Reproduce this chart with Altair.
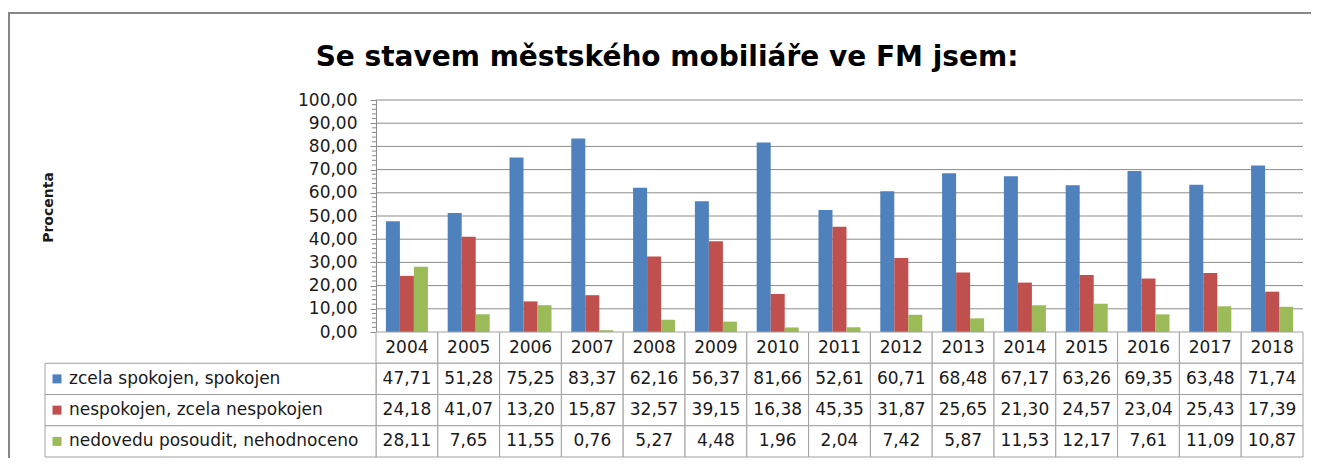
import altair as alt
import pandas as pd

# ---------------- data ----------------
years = [str(y) for y in range(2004, 2019)]
series = [
    "zcela spokojen, spokojen",
    "nespokojen, zcela nespokojen",
    "nedovedu posoudit, nehodnoceno",
]
satisfied = [47.71, 51.28, 75.25, 83.37, 62.16, 56.37, 81.66, 52.61, 60.71, 68.48, 67.17, 63.26, 69.35, 63.48, 71.74]
dissatisfied = [24.18, 41.07, 13.20, 15.87, 32.57, 39.15, 16.38, 45.35, 31.87, 25.65, 21.30, 24.57, 23.04, 25.43, 17.39]
undecided = [28.11, 7.65, 11.55, 0.76, 5.27, 4.48, 1.96, 2.04, 7.42, 5.87, 11.53, 12.17, 7.61, 11.09, 10.87]
colors = ["#4F81BD", "#C0504D", "#9BBB59"]
y_ticks = [0, 10, 20, 30, 40, 50, 60, 70, 80, 90, 100]
title_text = "Se stavem městského mobiliáře ve FM jsem:"
y_title = "Procenta"

# ---------------- layout ----------------
W, H = 1258, 358          # whole plot area (label column + year columns, bars + table)
LABEL_W = 331             # width of the table's label column
BAR_H = 232               # height of the bar region
PAD_L, PAD_T, PAD_R, PAD_B = 37, 92, 8, 0
FONT = "DejaVu Sans"
GRID = "#8c8c8c"
LINE = "#a0a0a0"
TXT = "#1a1a1a"
FRAME = "#868686"

row_keys = ["h"] + [f"r{i}" for i in range(len(series))]

rows = []
for s, vals in zip(series, [satisfied, dissatisfied, undecided]):
    for yr, v in zip(years, vals):
        rows.append({"year": yr, "series": s, "value": v})
bars_df = pd.DataFrame(rows)

cells = []
for yr in years:
    cells.append({"year": yr, "row": "h", "label": yr})
for i, vals in enumerate([satisfied, dissatisfied, undecided]):
    for yr, v in zip(years, vals):
        cells.append({"year": yr, "row": f"r{i}", "label": f"{v:.2f}".replace(".", ",")})
cells_df = pd.DataFrame(cells)

labels_df = pd.DataFrame({"row": row_keys[1:], "series": series})
grid_df = pd.DataFrame({"v": y_ticks[1:]})
minor_df = pd.DataFrame({"v": [v for v in range(0, 101, 2) if v % 10 != 0]})
one_df = pd.DataFrame({"k": [0]})
title_df = pd.DataFrame({"t": [title_text]})

bar_x = alt.Scale(type="band", domain=years, range=[LABEL_W, W], paddingInner=0.32, paddingOuter=0.16)
cell_x = alt.Scale(type="band", domain=years, range=[LABEL_W, W], paddingInner=0, paddingOuter=0)
bar_y = alt.Scale(type="linear", domain=[0, 100], range=[BAR_H, 0], nice=False, zero=True)
row_y = alt.Scale(type="band", domain=row_keys, range=[BAR_H, H - 1], paddingInner=0, paddingOuter=0)
color_scale = alt.Scale(domain=series, range=colors)

# outer chart frame (left and top edges only; the others run off the page)
frame_top = alt.Chart(one_df).mark_rect(fill=FRAME, strokeWidth=0).encode(
    x=alt.value(-37), x2=alt.value(W + PAD_R + 40), y=alt.value(-88), y2=alt.value(-86)
)
frame_left = alt.Chart(one_df).mark_rect(fill=FRAME, strokeWidth=0).encode(
    x=alt.value(-37), x2=alt.value(-35), y=alt.value(-88), y2=alt.value(H + PAD_B + 20)
)

title = alt.Chart(title_df).mark_text(
    font=FONT, fontSize=28, fontWeight="bold", color="black", align="center", baseline="alphabetic"
).encode(
    x=alt.value(W / 2 - 7), y=alt.value(-34), text="t:N"
)

grid = alt.Chart(grid_df).mark_rule(color=GRID, strokeWidth=1).encode(
    y=alt.Y("v:Q", scale=bar_y, axis=None),
    x=alt.value(LABEL_W), x2=alt.value(W),
)

minor = alt.Chart(minor_df).mark_rule(color=GRID, strokeWidth=1).encode(
    y=alt.Y("v:Q", scale=bar_y, axis=None),
    x=alt.value(LABEL_W - 4), x2=alt.value(LABEL_W),
)

bars = alt.Chart(bars_df).mark_bar().encode(
    x=alt.X("year:N", scale=bar_x, axis=None),
    xOffset=alt.XOffset("series:N", sort=series,
                        scale=alt.Scale(domain=series, paddingInner=0, paddingOuter=0)),
    y=alt.Y(
        "value:Q",
        scale=bar_y,
        axis=alt.Axis(
            offset=-LABEL_W,
            values=y_ticks,
            labelExpr="replace(format(datum.value, '.2f'), '.', ',')",
            grid=False,
            domainColor=GRID,
            tickColor=GRID,
            tickSize=6,
            labelPadding=13,
            labelFont=FONT,
            labelFontSize=17,
            labelColor=TXT,
            title=y_title,
            titleFont=FONT,
            titleFontSize=14,
            titleFontWeight="bold",
            titleColor=TXT,
            titleAngle=270,
            titleAlign="center",
            titleBaseline="middle",
            titleX=-(LABEL_W - 3),
            titleY=107,
        ),
    ),
    color=alt.Color("series:N", scale=color_scale, legend=None),
)

table_cells = alt.Chart(cells_df).mark_rect(fill="white", stroke=LINE, strokeWidth=1).encode(
    x=alt.X("year:N", scale=cell_x, axis=None),
    y=alt.Y("row:N", scale=row_y, axis=None),
)

label_cells = alt.Chart(labels_df).mark_rect(fill="white", stroke=LINE, strokeWidth=1).encode(
    x=alt.value(0), x2=alt.value(LABEL_W),
    y=alt.Y("row:N", scale=row_y, axis=None),
)

table_text = alt.Chart(cells_df).mark_text(
    font=FONT, fontSize=17, color=TXT, align="center", baseline="middle"
).encode(
    x=alt.X("year:N", scale=cell_x, axis=None),
    y=alt.Y("row:N", scale=row_y, axis=None),
    text="label:N",
)

swatches = alt.Chart(labels_df).mark_square(size=81, opacity=1).encode(
    x=alt.value(12),
    y=alt.Y("row:N", scale=row_y, axis=None),
    color=alt.Color("series:N", scale=color_scale, legend=None),
)

label_text = alt.Chart(labels_df).mark_text(
    font=FONT, fontSize=17, color=TXT, align="left", baseline="middle"
).encode(
    x=alt.value(24),
    y=alt.Y("row:N", scale=row_y, axis=None),
    text="series:N",
)

chart = alt.layer(
    frame_top, frame_left, title, grid, minor, bars,
    table_cells, label_cells, table_text, swatches, label_text
).resolve_scale(
    x="independent", y="independent"
).properties(
    width=W,
    height=H,
    padding={"left": PAD_L, "top": PAD_T, "right": PAD_R, "bottom": PAD_B},
    autosize=alt.AutoSizeParams(type="none"),
).configure_view(stroke=None)

chart.save("out.html", embed_options={"renderer": "svg", "actions": False})
